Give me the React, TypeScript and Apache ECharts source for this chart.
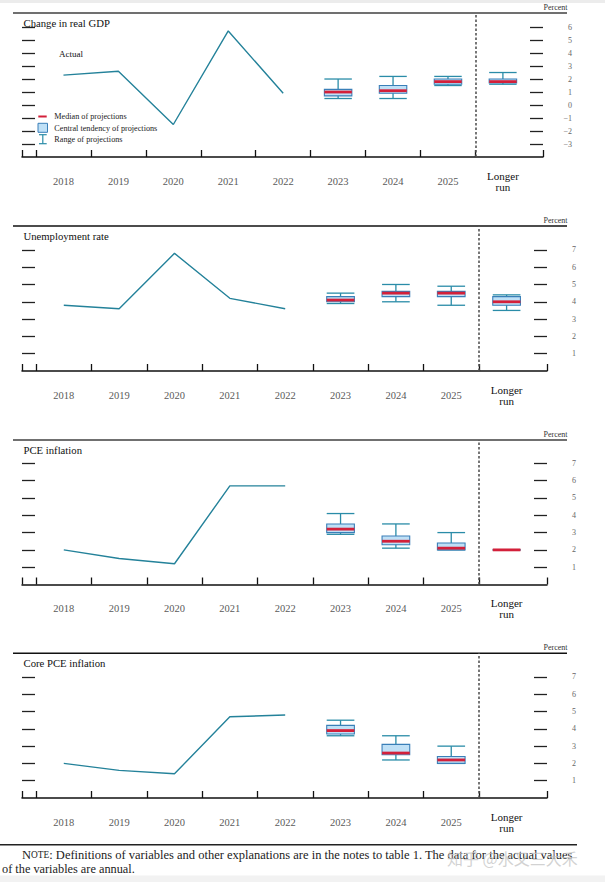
import React, { useEffect, useRef } from 'react';
import * as echarts from 'echarts';

// ---------- data ----------
const categories = ['2018', '2019', '2020', '2021', '2022', '2023', '2024', '2025', 'Longer run'];

const gdpActual = [2.3, 2.6, -1.5, 5.7, 0.9];
const gdpMedian = [1.0, 1.1, 1.8, 1.8];
const gdpCtLow = [0.7, 0.9, 1.6, 1.7];
const gdpCtHigh = [1.2, 1.5, 2.0, 2.0];
const gdpRangeLow = [0.5, 0.5, 1.5, 1.6];
const gdpRangeHigh = [2.0, 2.2, 2.2, 2.5];

const unempActual = [3.8, 3.6, 6.8, 4.2, 3.6];
const unempMedian = [4.1, 4.5, 4.5, 4.0];
const unempCtLow = [4.0, 4.3, 4.3, 3.8];
const unempCtHigh = [4.3, 4.6, 4.6, 4.3];
const unempRangeLow = [3.9, 4.0, 3.8, 3.5];
const unempRangeHigh = [4.5, 5.0, 4.9, 4.4];

const pceActual = [2.0, 1.5, 1.2, 5.7, 5.7];
const pceMedian = [3.2, 2.5, 2.1, 2.0];
const pceCtLow = [3.0, 2.3, 2.0, 2.0];
const pceCtHigh = [3.5, 2.8, 2.4, 2.0];
const pceRangeLow = [2.9, 2.1, 2.0, 2.0];
const pceRangeHigh = [4.1, 3.5, 3.0, 2.0];

const coreActual = [2.0, 1.6, 1.4, 4.7, 4.8];
const coreMedian = [3.9, 2.6, 2.2];
const coreCtLow = [3.7, 2.5, 2.0];
const coreCtHigh = [4.2, 3.1, 2.4];
const coreRangeLow = [3.6, 2.2, 2.0];
const coreRangeHigh = [4.5, 3.6, 3.0];

const gdpTicks = [-3, -2, -1, 0, 1, 2, 3, 4, 5, 6];
const rateTicks = [1, 2, 3, 4, 5, 6, 7];

const titles = ['Change in real GDP', 'Unemployment rate', 'PCE inflation', 'Core PCE inflation'];
const legendLabels = ['Median of projections', 'Central tendency of projections', 'Range of projections'];
const actualLabel = 'Actual';
const unitLabel = 'Percent';
const noteLine1Rest = ': Definitions of variables and other explanations are in the notes to table 1. The data for the actual values';
const noteLine2 = 'of the variables are annual.';
const watermark = '知乎 @水又三大禾';

// ---------- style / layout ----------
const FONT = "Liberation Serif, Times New Roman, serif";
const TEAL = '#24829a';
const WHISKER = '#2a8ca8';
const BOX_FILL = '#bfe0f6';
const BOX_STROKE = '#3a7fb8';
const MEDIAN = '#d3203a';
const X_MIN = -0.755;
const X_MAX = 8.73;

const layout = [
  { top: 13, height: 144, width: 521, yMin: -4, yMax: 7.08, ruleColor: '#707070', ruleWidth: 2 },
  { top: 226, height: 145, width: 525, yMin: 0, yMax: 8.38, ruleColor: '#111', ruleWidth: 1.5 },
  { top: 440, height: 144.5, width: 525, yMin: 0, yMax: 8.35, ruleColor: '#707070', ruleWidth: 2 },
  { top: 653.3, height: 144.7, width: 525, yMin: 0, yMax: 8.37, ruleColor: '#111', ruleWidth: 1.5 },
];

const panels = [
  { title: titles[0], actual: gdpActual, median: gdpMedian, ctLow: gdpCtLow, ctHigh: gdpCtHigh, rLow: gdpRangeLow, rHigh: gdpRangeHigh, ticks: gdpTicks },
  { title: titles[1], actual: unempActual, median: unempMedian, ctLow: unempCtLow, ctHigh: unempCtHigh, rLow: unempRangeLow, rHigh: unempRangeHigh, ticks: rateTicks },
  { title: titles[2], actual: pceActual, median: pceMedian, ctLow: pceCtLow, ctHigh: pceCtHigh, rLow: pceRangeLow, rHigh: pceRangeHigh, ticks: rateTicks },
  { title: titles[3], actual: coreActual, median: coreMedian, ctLow: coreCtLow, ctHigh: coreCtHigh, rLow: coreRangeLow, rHigh: coreRangeHigh, ticks: rateTicks },
];

const renderBox = (params: any, api: any) => {
  const x = api.value(0);
  const pLo = api.coord([x, api.value(1)]);
  const cx = pLo[0];
  const yLo = pLo[1];
  const yCtLo = api.coord([x, api.value(2)])[1];
  const yMed = api.coord([x, api.value(3)])[1];
  const yCtHi = api.coord([x, api.value(4)])[1];
  const yHi = api.coord([x, api.value(5)])[1];
  const w = api.size([0.5, 0])[0];
  const h = w / 2;
  const ws = { stroke: WHISKER, lineWidth: 1.3 };
  return {
    type: 'group',
    children: [
      { type: 'line', shape: { x1: cx, y1: yHi, x2: cx, y2: yLo }, style: ws },
      { type: 'line', shape: { x1: cx - h, y1: yHi, x2: cx + h, y2: yHi }, style: ws },
      { type: 'line', shape: { x1: cx - h, y1: yLo, x2: cx + h, y2: yLo }, style: ws },
      { type: 'rect', shape: { x: cx - h, y: yCtHi, width: w, height: yCtLo - yCtHi }, style: { fill: BOX_FILL, stroke: BOX_STROKE, lineWidth: 1.1 } },
      { type: 'line', shape: { x1: cx - h, y1: yMed, x2: cx + h, y2: yMed }, style: { stroke: MEDIAN, lineWidth: 2.8 } },
    ],
  };
};

function buildOption() {
  const grid: any[] = [];
  const xAxis: any[] = [];
  const yAxis: any[] = [];
  const series: any[] = [];
  const graphic: any[] = [];

  const boundaries = categories.slice(0, -1).map((_, i) => i - 0.5).concat([categories.length - 1.5]);
  const xTickValues = [X_MIN, ...boundaries, X_MAX];
  const labelValues = categories.map((_, i) => i);

  graphic.push({ type: 'rect', shape: { x: 0, y: 0, width: 605, height: 3 }, style: { fill: '#ececec' } });

  panels.forEach((p, i) => {
    const L = layout[i];
    grid.push({ left: 22, top: L.top, width: L.width, height: L.height });
    xAxis.push({
      type: 'value', gridIndex: i, min: X_MIN, max: X_MAX,
      splitLine: { show: false },
      axisLine: { show: true, onZero: false, lineStyle: { color: '#111', width: 1.5 } },
      axisTick: { show: true, inside: true, length: 7, customValues: xTickValues, lineStyle: { color: '#111', width: 1.3 } },
      axisLabel: {
        show: true, customValues: labelValues, margin: 24, verticalAlign: 'middle',
        formatter: (v: number) => {
          const lab = categories[Math.round(v)] || '';
          return lab === 'Longer run' ? '{lr|Longer}\n{lr|run}' : '{yr|' + lab + '}';
        },
        rich: {
          yr: { fontFamily: FONT, fontSize: 10.5, color: '#5a5a5a' },
          lr: { fontFamily: FONT, fontSize: 11, color: '#111', lineHeight: 11 },
        },
      },
    });
    const yBase = {
      type: 'value', gridIndex: i, min: L.yMin, max: L.yMax,
      splitLine: { show: false },
      axisTick: { show: true, inside: true, length: 13, customValues: p.ticks, lineStyle: { color: '#222', width: 1.3 } },
    };
    yAxis.push({ ...yBase, position: 'left', axisLine: { show: false, onZero: false }, axisLabel: { show: false } });
    yAxis.push({
      ...yBase, position: 'right', axisLine: { show: false, onZero: false },
      axisLabel: {
        show: true, customValues: p.ticks, align: 'right', margin: 29,
        fontFamily: FONT, fontSize: 8, color: '#666',
        formatter: (v: number) => String(v).replace('-', '\u2212'),
      },
    });

    series.push({
      type: 'line', xAxisIndex: i, yAxisIndex: 2 * i,
      data: p.actual.map((v, k) => [k, v]),
      symbol: 'none', lineStyle: { color: TEAL, width: 1.4 }, silent: true, z: 3,
      markLine: {
        silent: true, symbol: 'none', label: { show: false },
        lineStyle: { color: '#555', type: [2.5, 2], width: 1.6 },
        data: [{ xAxis: categories.length - 1.5 }],
      },
    });
    series.push({
      type: 'custom', xAxisIndex: i, yAxisIndex: 2 * i, silent: true, z: 4,
      renderItem: renderBox,
      encode: { x: 0, y: [1, 2, 3, 4, 5] },
      data: p.median.map((m, k) => [p.actual.length + k, p.rLow[k], p.ctLow[k], m, p.ctHigh[k], p.rHigh[k]]),
    });

    graphic.push({ type: 'line', shape: { x1: 13, y1: L.top, x2: 567, y2: L.top }, style: { stroke: L.ruleColor, lineWidth: L.ruleWidth } });
    graphic.push({ type: 'text', x: 23.5, y: L.top + 10, style: { text: p.title, fontFamily: FONT, fontSize: 10.7, fill: '#111', align: 'left', verticalAlign: 'middle' } });
    graphic.push({ type: 'text', x: 543.5, y: L.top - 5.6, style: { text: unitLabel, fontFamily: FONT, fontSize: 8, fill: '#333', align: 'left', verticalAlign: 'middle' } });
  });

  // annotations of panel 1
  graphic.push({ type: 'text', x: 59, y: 54, style: { text: actualLabel, fontFamily: FONT, fontSize: 9, fill: '#111', align: 'left', verticalAlign: 'middle' } });
  graphic.push({ type: 'line', shape: { x1: 38.3, y1: 116.5, x2: 46.7, y2: 116.5 }, style: { stroke: MEDIAN, lineWidth: 2 } });
  graphic.push({ type: 'rect', shape: { x: 38, y: 123.3, width: 9.5, height: 9 }, style: { fill: BOX_FILL, stroke: BOX_STROKE, lineWidth: 1 } });
  graphic.push({ type: 'line', shape: { x1: 42.8, y1: 134.7, x2: 42.8, y2: 143.7 }, style: { stroke: WHISKER, lineWidth: 1.2 } });
  graphic.push({ type: 'line', shape: { x1: 39, y1: 134.7, x2: 46.7, y2: 134.7 }, style: { stroke: WHISKER, lineWidth: 1.2 } });
  graphic.push({ type: 'line', shape: { x1: 39, y1: 143.7, x2: 46.7, y2: 143.7 }, style: { stroke: WHISKER, lineWidth: 1.2 } });
  [116.7, 128.3, 139].forEach((y, k) => {
    graphic.push({ type: 'text', x: 54.3, y, style: { text: legendLabels[k], fontFamily: FONT, fontSize: 8.2, fill: '#222', align: 'left', verticalAlign: 'middle' } });
  });

  // note
  graphic.push({ type: 'line', shape: { x1: 0, y1: 844.7, x2: 577, y2: 844.7 }, style: { stroke: '#222', lineWidth: 1.5 } });
  graphic.push({
    type: 'text', x: 22, y: 855,
    style: {
      text: '{a|N}{b|OTE}{c|' + noteLine1Rest + '}',
      rich: {
        a: { fontFamily: FONT, fontSize: 12.5, fill: '#222' },
        b: { fontFamily: FONT, fontSize: 9.4, fill: '#222' },
        c: { fontFamily: FONT, fontSize: 12.5, fill: '#222' },
      },
      fontFamily: FONT, fontSize: 12.5, fill: '#222', align: 'left', verticalAlign: 'middle',
    },
  });
  graphic.push({ type: 'text', x: 2, y: 868.5, style: { text: noteLine2, fontFamily: FONT, fontSize: 12.3, fill: '#222', align: 'left', verticalAlign: 'middle' } });
  graphic.push({ type: 'text', x: 447, y: 858, style: { text: watermark, fontFamily: "Noto Sans CJK SC, sans-serif", fontSize: 16, fill: '#c4c4c4', opacity: 0.75, align: 'left', verticalAlign: 'middle' } });
  graphic.push({ type: 'rect', shape: { x: 0, y: 875.5, width: 605, height: 7 }, style: { fill: '#f2f2f2' } });

  return { animation: false, backgroundColor: '#ffffff', grid, xAxis, yAxis, series, graphic };
}

export default function App() {
  const ref = useRef<HTMLDivElement>(null);
  useEffect(() => {
    document.body.style.margin = '0';
    const chart = echarts.init(ref.current!, null, { renderer: 'svg' });
    chart.setOption(buildOption() as any);
    return () => chart.dispose();
  }, []);
  return <div ref={ref} style={{ width: 605, height: 882 }} />;
}
